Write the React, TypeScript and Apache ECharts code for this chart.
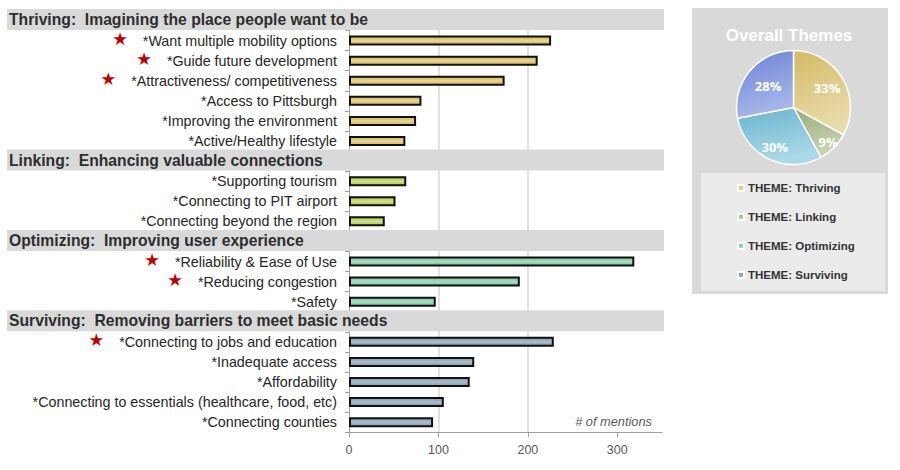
import React, { useEffect, useRef } from "react";
import * as echarts from "echarts";

// ---------- data ----------
const groupTitles = [
  "Thriving:  Imagining the place people want to be",
  "Linking:  Enhancing valuable connections",
  "Optimizing:  Improving user experience",
  "Surviving:  Removing barriers to meet basic needs",
];
const thrivingLabels = [
  "*Want multiple mobility options",
  "*Guide future development",
  "*Attractiveness/ competitiveness",
  "*Access to Pittsburgh",
  "*Improving the environment",
  "*Active/Healthy lifestyle",
];
const thrivingValues = [226, 211, 174, 81, 75, 63];
const linkingLabels = ["*Supporting tourism", "*Connecting to PIT airport", "*Connecting beyond the region"];
const linkingValues = [64, 52, 40];
const optimizingLabels = ["*Reliability & Ease of Use", "*Reducing congestion", "*Safety"];
const optimizingValues = [319, 191, 97];
const survivingLabels = [
  "*Connecting to jobs and education",
  "*Inadequate access",
  "*Affordability",
  "*Connecting to essentials (healthcare, food, etc)",
  "*Connecting counties",
];
const survivingValues = [229, 140, 135, 106, 94];
const starredLabels = [
  "*Want multiple mobility options",
  "*Guide future development",
  "*Attractiveness/ competitiveness",
  "*Reliability & Ease of Use",
  "*Reducing congestion",
  "*Connecting to jobs and education",
];
const xTickValues = [0, 100, 200, 300];
const xMax = 350;

const pieNames = ["THEME: Thriving", "THEME: Linking", "THEME: Optimizing", "THEME: Surviving"];
const pieValues = [33, 9, 30, 28];

// ---------- styles ----------
const barColors = [
  ["#cdb35e", "#e8d692"],
  ["#a9c24e", "#d0e18a"],
  ["#77c09c", "#a9dcc1"],
  ["#7f96aa", "#adbfcd"],
];
const pieColors = [
  ["#d3ba66", "#eadcaa"],
  ["#97ab78", "#c9d4b2"],
  ["#67b4cf", "#acd9e7"],
  ["#6b82d5", "#a8b6ea"],
];
const pieLabelDist = [36, 46, 41, 30];
const FONT = "'Liberation Sans', Arial, sans-serif";

const groups = [
  { labels: thrivingLabels, values: thrivingValues },
  { labels: linkingLabels, values: linkingValues },
  { labels: optimizingLabels, values: optimizingValues },
  { labels: survivingLabels, values: survivingValues },
];

const barGrad = (g: number) =>
  new echarts.graphic.LinearGradient(0, 0, 0, 1, [
    { offset: 0, color: barColors[g][0] },
    { offset: 0.5, color: barColors[g][1] },
    { offset: 1, color: barColors[g][0] },
  ]);
const pieGrad = (i: number) =>
  new echarts.graphic.LinearGradient(0, 0, 0.3, 1, [
    { offset: 0, color: pieColors[i][0] },
    { offset: 1, color: pieColors[i][1] },
  ]);

export default function App() {
  const ref = useRef<HTMLDivElement>(null);
  useEffect(() => {
    document.body.style.margin = "0";
    const chart = echarts.init(ref.current!, null, { renderer: "svg" });

    const categories: string[] = [];
    const barData: any[] = [];
    const headerRows: number[] = [];
    groups.forEach((grp, g) => {
      headerRows.push(categories.length);
      categories.push("__H" + g);
      barData.push("-");
      grp.labels.forEach((lab, i) => {
        categories.push(lab);
        barData.push({ value: grp.values[i], itemStyle: { color: barGrad(g) } });
      });
    });

    const pieCenter = [793.5, 107.5];
    const mainPieData = pieNames.map((n, i) => ({
      name: n,
      value: pieValues[i],
      itemStyle: { color: pieGrad(i) },
    }));
    const labelPies = pieNames.map((_, k) => ({
      type: "pie",
      silent: true,
      center: pieCenter,
      radius: [0, pieLabelDist[k] * 2],
      startAngle: 90,
      z: 5,
      emphasis: { disabled: true },
      itemStyle: { color: "transparent", borderWidth: 0 },
      labelLine: { show: false },
      data: pieNames.map((n, i) => ({
        name: n,
        value: pieValues[i],
        label: {
          show: i === k,
          position: "inside",
          formatter: "{c}%",
          color: "#ffffff",
          fontSize: 13,
          fontWeight: "bold",
          fontFamily: "'Open Sans', 'Noto Sans', sans-serif",
        },
      })),
    }));

    chart.setOption({
      animation: false,
      grid: { left: 349, right: 238, top: 10.5, bottom: 37.8, containLabel: false },
      xAxis: {
        type: "value",
        min: 0,
        max: xMax,
        interval: 100,
        axisLine: { show: true, lineStyle: { color: "#a0a0a0", width: 1 } },
        axisTick: { show: true, length: 5, lineStyle: { color: "#a0a0a0" }, customValues: xTickValues },
        axisLabel: {
          color: "#595959",
          fontSize: 12.5,
          fontFamily: FONT,
          margin: 11,
          customValues: xTickValues,
        },
        splitLine: { show: true, showMinLine: false, showMaxLine: false, lineStyle: { color: "#d9d9d9", width: 1.5 } },
      },
      yAxis: {
        type: "category",
        inverse: true,
        data: categories,
        axisLine: { show: true, lineStyle: { color: "#a0a0a0", width: 1 } },
        axisTick: { show: true, length: 4, lineStyle: { color: "#a0a0a0" } },
        axisLabel: {
          margin: 12,
          interval: 0,
          formatter: (v: string) => {
            if (v.startsWith("__H")) return "";
            return starredLabels.includes(v) ? "{s|★}{t|" + v + "}" : "{t|" + v + "}";
          },
          rich: {
            t: { fontSize: 14.3, color: "#262626", fontFamily: FONT },
            s: { fontSize: 17.5, color: "#c00000", fontFamily: "'DejaVu Sans', sans-serif", padding: [0, 15, 3, 0] },
          },
        },
      },
      legend: {
        orient: "vertical",
        left: 732,
        top: 176,
        itemWidth: 6,
        itemHeight: 6,
        itemGap: 15,
        icon: "rect",
        selectedMode: false,
        data: pieNames,
        textStyle: { color: "#333333", fontSize: 11.5, fontWeight: "bold", fontFamily: FONT, lineHeight: 14, padding: [0, 0, 0, -1] },
      },
      series: [
        {
          type: "bar",
          data: barData,
          barWidth: 10,
          z: 3,
          itemStyle: { borderColor: "#111111", borderWidth: 2 },
        },
        {
          type: "pie",
          center: pieCenter,
          radius: [0, 57],
          startAngle: 90,
          z: 3,
          label: { show: false },
          labelLine: { show: false },
          itemStyle: { borderColor: "#ffffff", borderWidth: 1.5 },
          data: mainPieData,
        },
        ...labelPies,
      ],
    });

    const graphics: any[] = [
      { type: "rect", z: 0, shape: { x: 692, y: 8, width: 196, height: 286 }, style: { fill: "#d9d9d9" } },
      { type: "rect", z: 1, shape: { x: 701, y: 173, width: 184, height: 118 }, style: { fill: "#ebebeb" } },
      {
        type: "text",
        z: 1,
        x: 789,
        y: 35,
        style: {
          text: "Overall Themes",
          fill: "#ffffff",
          font: "bold 17px " + FONT,
          textAlign: "center",
          textVerticalAlign: "middle",
        },
      },
      {
        type: "text",
        z: 60,
        x: 652,
        y: 421,
        style: {
          text: "# of mentions",
          fill: "#595959",
          font: "italic 12.8px " + FONT,
          textAlign: "right",
          textVerticalAlign: "middle",
        },
      },
    ];
    headerRows.forEach((row, g) => {
      const y = chart.convertToPixel({ yAxisIndex: 0 }, row) as number;
      graphics.push({
        type: "rect",
        z: 50,
        shape: { x: 7, y: y - 11.5, width: 657, height: 21 },
        style: { fill: "#d9d9d9" },
      });
      graphics.push({
        type: "text",
        z: 51,
        x: 9,
        y: y - 1,
        style: {
          text: groupTitles[g],
          fill: "#2e2e2e",
          font: "bold 15.7px " + FONT,
          textAlign: "left",
          textVerticalAlign: "middle",
        },
      });
    });
    chart.setOption({ graphic: graphics });

    return () => chart.dispose();
  }, []);
  return <div ref={ref} style={{ width: 900, height: 470 }} />;
}
